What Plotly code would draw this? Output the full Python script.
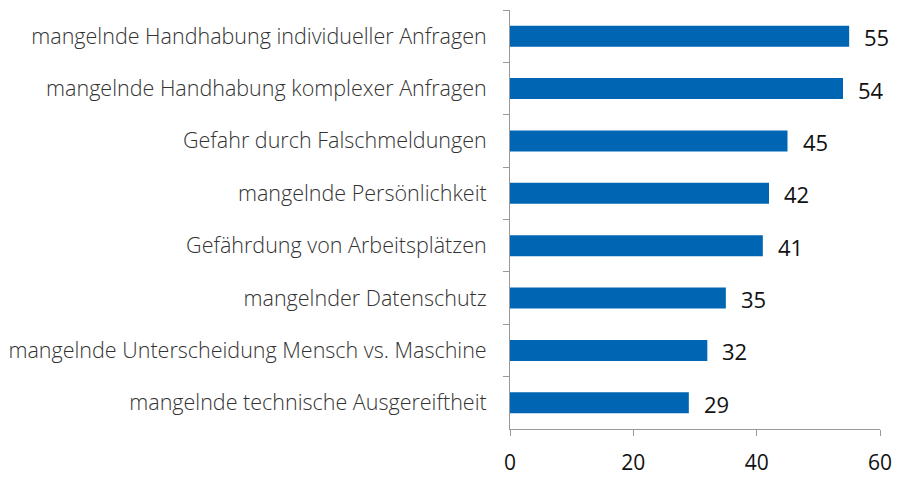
import plotly.graph_objects as go

categories = [
    "mangelnde Handhabung individueller Anfragen",
    "mangelnde Handhabung komplexer Anfragen",
    "Gefahr durch Falschmeldungen",
    "mangelnde Persönlichkeit",
    "Gefährdung von Arbeitsplätzen",
    "mangelnder Datenschutz",
    "mangelnde Unterscheidung Mensch vs. Maschine",
    "mangelnde technische Ausgereiftheit",
]
values = [55, 54, 45, 42, 41, 35, 32, 29]
x_ticks = [0, 20, 40, 60]

fig = go.Figure()
fig.add_trace(go.Bar(
    y=categories, x=values, orientation="h",
    marker=dict(color="#0066b3", line=dict(width=0)),
    width=0.4,
))
for c, v in zip(categories, values):
    fig.add_annotation(x=v, y=c, text=str(v), showarrow=False,
                       xanchor="left", xshift=13, yshift=-1,
                       font=dict(family="Open Sans", size=22, color="#111111"))

fig.update_layout(
    width=899, height=477,
    margin=dict(l=510, r=19, t=10, b=48, autoexpand=False),
    plot_bgcolor="white", paper_bgcolor="white",
    showlegend=False,
    font=dict(family="Open Sans", color="#333333"),
)
fig.update_xaxes(range=[0, 60], tickvals=x_ticks, showgrid=False, zeroline=False,
                 showline=True, linecolor="#999999", linewidth=1, automargin=False,
                 ticks="outside", ticklen=6, tickcolor="#999999",
                 tickfont=dict(size=21, color="#111111"), ticklabelstandoff=9)
fig.update_yaxes(autorange="reversed", showgrid=False, zeroline=False, automargin=False,
                 showline=True, linecolor="#999999", linewidth=1,
                 ticks="outside", ticklen=6, tickcolor="#999999", tickson="boundaries",
                 tickfont=dict(size=21.5, color="#333333", weight=300), ticklabelstandoff=18)

fig.write_html("out.html", config={"displayModeBar": False},
               post_script="document.body.style.margin='0';document.body.style.overflow='hidden';")
